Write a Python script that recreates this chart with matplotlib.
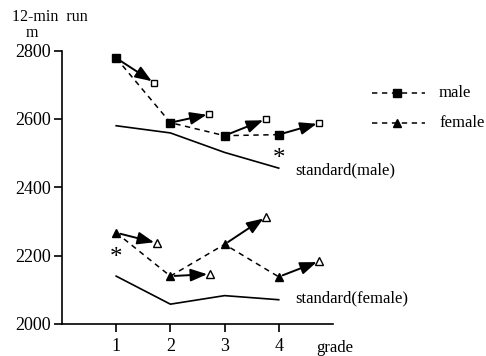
import matplotlib
matplotlib.use("Agg")
import matplotlib.pyplot as plt
from matplotlib.lines import Line2D

plt.rcParams['font.family'] = ['Liberation Serif', 'DejaVu Serif']

grades = [1, 2, 3, 4]

# male measured values (filled) and follow-up values (open, shifted right)
male_start = [2778, 2589, 2551, 2554]
male_end_x = [1.70, 2.72, 3.76, 4.75]
male_end = [2706, 2614, 2599, 2588]
standard_male = [2580, 2559, 2502, 2456]

# female measured values and follow-up values
female_start = [2267, 2140, 2233, 2138]
female_end_x = [1.75, 2.73, 3.76, 4.75]
female_end = [2237, 2146, 2313, 2184]
standard_female = [2140, 2058, 2083, 2071]

yticks = [2000, 2200, 2400, 2600, 2800]

fig = plt.figure(figsize=(4.86, 3.56), dpi=100)
ax = fig.add_axes([0.1276, 0.0899, 0.685 - 0.1276, 0.858 - 0.0899])
ax.set_xlim(0, 5)
ax.set_ylim(2000, 2800)

for s in ['top', 'right']:
    ax.spines[s].set_visible(False)
for s in ['left', 'bottom']:
    ax.spines[s].set_linewidth(1.2)

ax.set_yticks(yticks)
ax.set_xticks(grades)
ax.tick_params(axis='both', direction='out', length=6, width=1.2,
               labelsize=13, pad=2)
ax.tick_params(axis='x', pad=4)

# standard curves
ax.plot(grades, standard_male, color='black', lw=1.2)
ax.plot(grades, standard_female, color='black', lw=1.2)

# measured series with dashed connectors
ax.plot(grades, male_start, ls=(0, (3.5, 3)), color='black', lw=1.1,
        marker='s', ms=5.5, mfc='black', mec='black', zorder=4)
ax.plot(grades, female_start, ls=(0, (3.5, 3)), color='black', lw=1.1,
        marker='^', ms=6, mfc='black', mec='black', zorder=4)

# follow-up points
ax.plot(male_end_x, male_end, ls='none', marker='s', ms=5,
        mfc='white', mec='black', mew=1.0, zorder=5)
ax.plot(female_end_x, female_end, ls='none', marker='^', ms=5.5,
        mfc='white', mec='black', mew=1.0, zorder=5)

# arrows from measured to follow-up values
arrow_props = dict(arrowstyle='-|>,head_length=1.0,head_width=0.38',
                   color='black', lw=1.4, shrinkA=3, shrinkB=2)
for x0, y0, x1, y1 in zip(grades, male_start, male_end_x, male_end):
    ax.annotate('', xy=(x1, y1), xytext=(x0, y0), arrowprops=arrow_props, zorder=6)
for x0, y0, x1, y1 in zip(grades, female_start, female_end_x, female_end):
    ax.annotate('', xy=(x1, y1), xytext=(x0, y0), arrowprops=arrow_props, zorder=6)

# significance marks
ax.text(4, 2483, '*', fontsize=18, ha='center', va='center')
ax.text(1, 2192, '*', fontsize=18, ha='center', va='center')

# curve labels
ax.text(4.31, 2448, 'standard(male)', fontsize=12, ha='left', va='center')
ax.text(4.31, 2075, 'standard(female)', fontsize=12, ha='left', va='center')

# axis captions
fig.text(12 / 486, 1 - 17 / 356, '12-min  run', fontsize=11.5, ha='left', va='center')
fig.text(26 / 486, 1 - 33 / 356, 'm', fontsize=11.5, ha='left', va='center')
fig.text(316 / 486, 1 - 348 / 356, 'grade', fontsize=12, ha='left', va='center')

# legend drawn in figure space
lx0, lx1, lxm = 372 / 486, 425 / 486, 397 / 486
for yy, mk, lab in [(1 - 93 / 356, 's', 'male'), (1 - 123 / 356, '^', 'female')]:
    fig.add_artist(Line2D([lx0, lx1], [yy, yy], ls=(0, (3.5, 3)), color='black',
                          lw=1.1, transform=fig.transFigure))
    fig.add_artist(Line2D([lxm], [yy], marker=mk, ms=5.5, color='black',
                          transform=fig.transFigure))
    fig.text(439 / 486, yy, lab, fontsize=12, ha='left', va='center')

fig.savefig('out.png', dpi=100)
